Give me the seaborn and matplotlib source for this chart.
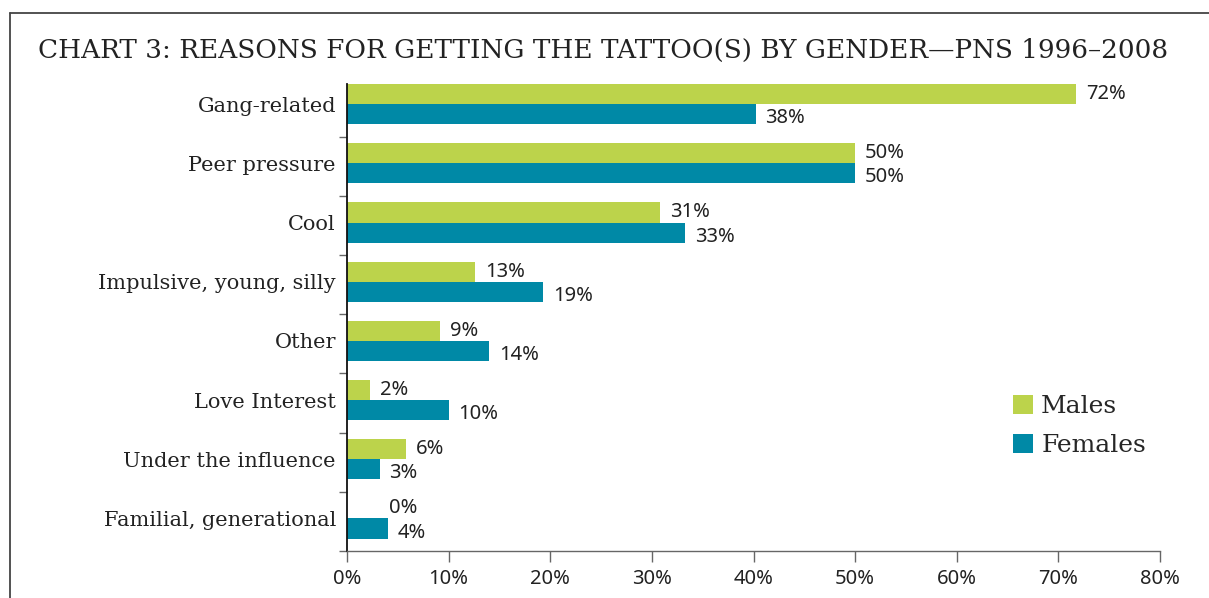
import matplotlib
matplotlib.use("Agg")
import matplotlib.pyplot as plt
from matplotlib.patches import Patch
from matplotlib.lines import Line2D
import seaborn as sns
import pandas as pd
import numpy as np

# ---- data ----
reasons = ["Gang-related", "Peer pressure", "Cool", "Impulsive, young, silly",
           "Other", "Love Interest", "Under the influence", "Familial, generational"]
males = [71.7, 50, 30.8, 12.6, 9.2, 2.3, 5.8, 0]
females = [40.2, 50, 33.3, 19.3, 14.0, 10.0, 3.2, 4.0]
male_labels = ["72%", "50%", "31%", "13%", "9%", "2%", "6%", "0%"]
female_labels = ["38%", "50%", "33%", "19%", "14%", "10%", "3%", "4%"]
x_ticks = [0, 10, 20, 30, 40, 50, 60, 70, 80]
x_ticklabels = ["0%", "10%", "20%", "30%", "40%", "50%", "60%", "70%", "80%"]
title = "CHART 3: REASONS FOR GETTING THE TATTOO(S) BY GENDER\u2014PNS 1996\u20132008"

GREEN = "#BCD34B"
TEAL = "#0089A6"

df = pd.DataFrame({
    "reason": reasons * 2,
    "pct": males + females,
    "gender": ["Males"] * len(reasons) + ["Females"] * len(reasons),
})

sns.set_style("white")
SERIF = ["DejaVu Serif"]
SANS = ["Noto Sans", "DejaVu Sans"]

fig = plt.figure(figsize=(12.09, 5.98), dpi=100)
ax = fig.add_axes([347 / 1209, 1 - 551 / 598, (1160 - 347) / 1209, (551 - 84) / 598])

sns.barplot(data=df, y="reason", x="pct", hue="gender", order=reasons,
            hue_order=["Males", "Females"], palette=[GREEN, TEAL],
            width=0.68, saturation=1, orient="h", dodge=True, ax=ax, legend=False,
            linewidth=0, edgecolor="none")

ax.set_xlim(0, 80)
ax.set_ylim(7.55, -0.34)
ax.set_xlabel("")
ax.set_ylabel("")

# value labels
for cont, labs, dy in zip(ax.containers, [male_labels, female_labels], [0, -4]):
    for rect, lab in zip(cont, labs):
        w = rect.get_width()
        yc = rect.get_y() + rect.get_height() / 2
        off = 42 if w == 0 else 10
        ax.annotate(lab, (w, yc), xytext=(off, dy), textcoords="offset pixels",
                    ha="left", va="center", fontsize=14.5, family=SANS, color="#222222")

# axes styling
sns.despine(ax=ax, top=True, right=True)
ax.spines["left"].set_color("#111111")
ax.spines["left"].set_linewidth(1.3)
ax.spines["bottom"].set_color("#666666")
ax.spines["bottom"].set_linewidth(1.0)

ax.set_xticks(x_ticks)
ax.set_xticklabels(x_ticklabels, family=SANS, fontsize=14.5, color="#222222")
ax.tick_params(axis="x", bottom=True, direction="out", length=8, width=1, color="#666666", pad=5)

ax.set_yticks(range(len(reasons)))
ax.set_yticklabels(reasons, family=SERIF, fontsize=15, color="#222222")
ax.tick_params(axis="y", which="major", left=True, length=0, pad=8)
ax.set_yticks([i + 0.55 for i in range(len(reasons))], minor=True)
ax.tick_params(axis="y", which="minor", left=True, direction="out", length=6, width=1, color="#666666")

# title
fig.text(38 / 1209, 1 - 58 / 598, title, family=SERIF, fontsize=18.9, color="#222222",
         ha="left", va="baseline")

# legend
handles = [Patch(facecolor=GREEN, edgecolor="none"), Patch(facecolor=TEAL, edgecolor="none")]
fig.legend(handles, ["Males", "Females"], loc="upper left",
           bbox_to_anchor=(990 / 1209, 1 - 372 / 598), frameon=False,
           prop={"family": SERIF, "size": 18}, handlelength=0.8, handleheight=0.8,
           handletextpad=0.35, labelspacing=0.65)

# partial frame
fig.add_artist(Line2D([10 / 1209, 10 / 1209], [0, 1 - 13 / 598], transform=fig.transFigure,
                      color="#444444", lw=1.3))
fig.add_artist(Line2D([10 / 1209, 1], [1 - 13 / 598, 1 - 13 / 598], transform=fig.transFigure,
                      color="#444444", lw=1.3))

fig.savefig("out.png", dpi=100)
